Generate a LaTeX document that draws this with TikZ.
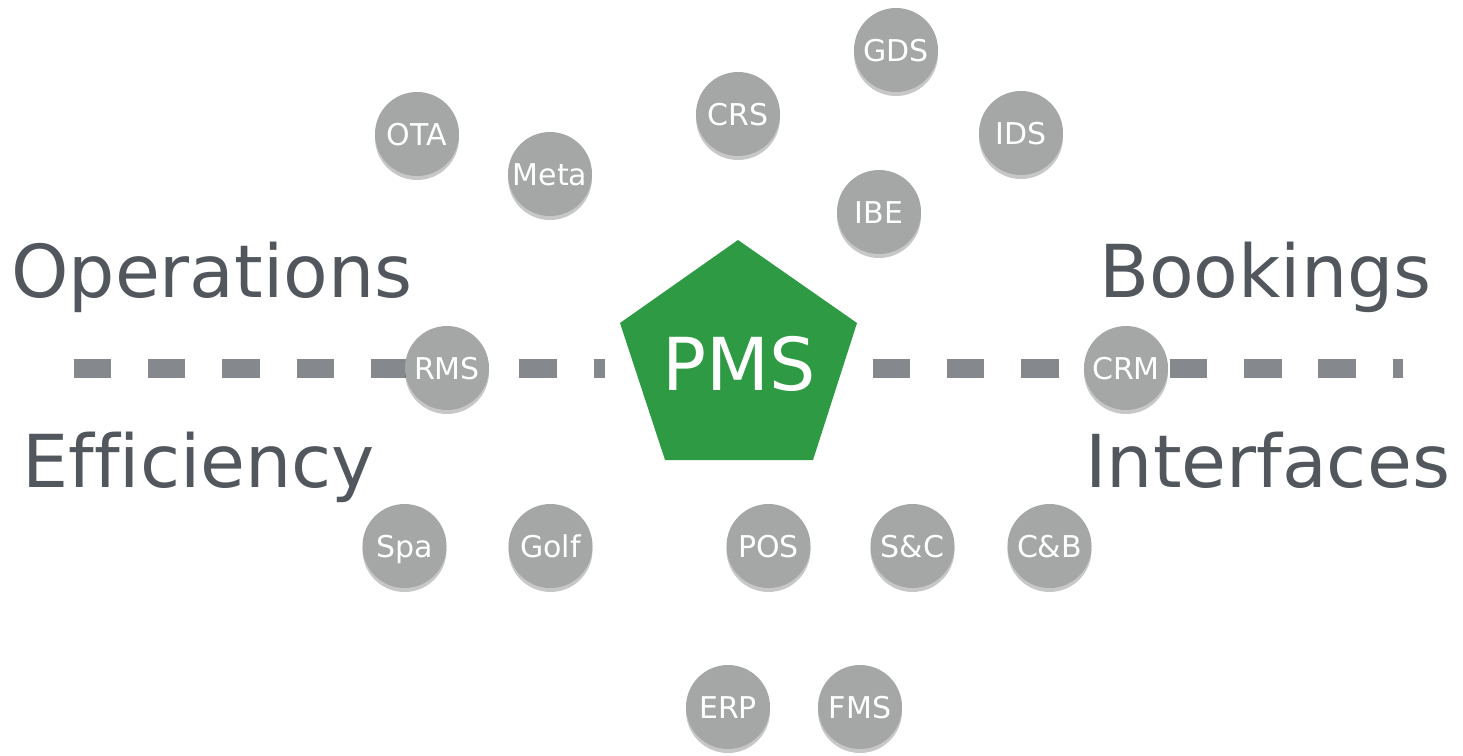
\documentclass[tikz,border=0pt]{standalone}
\usepackage{fontspec}
\setmainfont{DejaVu Sans}[Ligatures=NoCommon]
\usetikzlibrary{shadows}
\definecolor{pmsgreen}{RGB}{47,154,68}
\definecolor{bubblegray}{RGB}{164,167,165}
\definecolor{labelgray}{RGB}{82,87,94}
\definecolor{dashgray}{RGB}{133,136,140}
\begin{document}
\begin{tikzpicture}[x=1pt,y=-1pt,
  bubble/.style={circle, fill=bubblegray, minimum size=84pt, inner sep=0pt,
    text=white, font=\fontsize{30}{34}\selectfont, text height=22pt, text depth=0pt,
    drop shadow={shadow xshift=0pt, shadow yshift=-4pt, opacity=0.22, fill=black}},
  biglabel/.style={anchor=base west, inner sep=0pt, text=labelgray, font=\fontsize{73}{80}\selectfont},
  divider/.style={draw=dashgray, line width=19pt, dash pattern=on 37.5pt off 36.8pt}]
\useasboundingbox (0,0) rectangle (1463,755);
% divider lines
\coordinate (dl1) at (73.6,368);
\coordinate (dl2) at (605,368);
\coordinate (dr1) at (872.5,368);
\coordinate (dr2) at (1403,368);
\draw[divider] (dl1) -- (dl2);
\draw[divider] (dr1) -- (dr2);
% big labels
\node[biglabel] (ops) at (11,297) {Operations};
\node[biglabel] (eff) at (22,487) {Efficiency};
\node[biglabel] (book) at (1099,297) {Bookings};
\node[biglabel] (intf) at (1085,487) {Interfaces};
% pentagon
\coordinate (p1) at (738,240);
\coordinate (p2) at (857,323);
\coordinate (p3) at (813,460);
\coordinate (p4) at (665,460);
\coordinate (p5) at (620,323);
\fill[pmsgreen] (p1) -- (p2) -- (p3) -- (p4) -- (p5) -- cycle;
\node[text=white, inner sep=0pt, font=\fontsize{73}{80}\selectfont, text height=53pt, text depth=0pt] (pms) at (739,364) {PMS};
% bubbles
\node[bubble] (ota) at (417,134) {OTA};
\node[bubble] (meta) at (550,174) {Meta};
\node[bubble] (crs) at (738,114) {CRS};
\node[bubble] (gds) at (896,50) {GDS};
\node[bubble] (ids) at (1021,133) {IDS};
\node[bubble] (ibe) at (879,212) {IBE};
\node[bubble] (rms) at (447,368) {RMS};
\node[bubble] (crm) at (1126,368) {CRM};
\node[bubble] (spa) at (404.5,546) {Spa};
\node[bubble] (golf) at (550.5,546) {Golf};
\node[bubble] (pos) at (768.5,546) {POS};
\node[bubble] (sc) at (912.5,546) {S\&C};
\node[bubble] (cb) at (1049.5,546) {C\&B};
\node[bubble] (erp) at (728,707) {ERP};
\node[bubble] (fms) at (860,707) {FMS};
\end{tikzpicture}
\end{document}
